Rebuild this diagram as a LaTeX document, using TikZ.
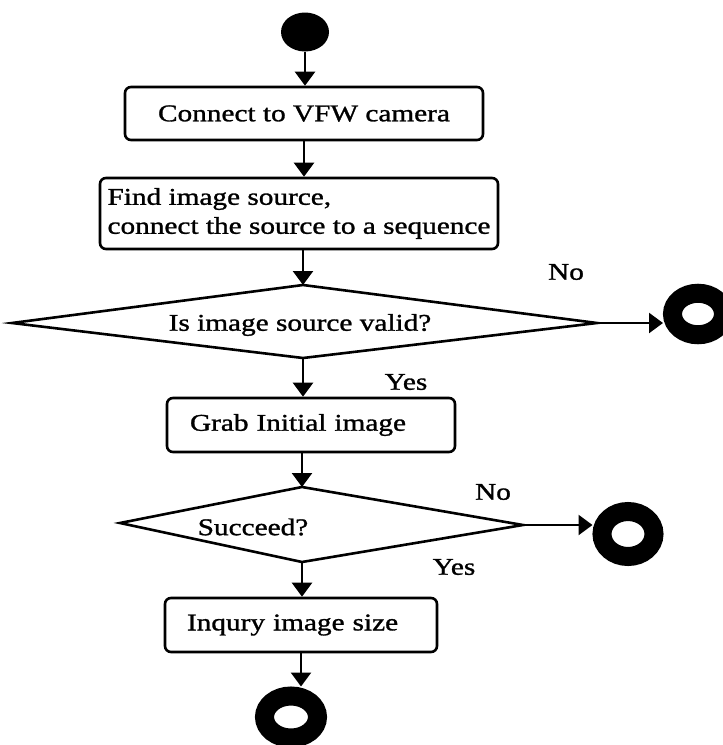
\documentclass[tikz,border=0pt]{standalone}
\usepackage{fontspec}
\setmainfont{Liberation Serif}[FakeStretch=1.22,FakeBold=1.2]
\usetikzlibrary{shapes.geometric,arrows.meta}
\begin{document}
\begin{tikzpicture}[x=1pt,y=-1pt,
  font=\fontsize{24}{29}\selectfont,
  arr/.style={line width=2.4pt,-{Triangle[width=20pt,length=14pt]}},
  stepbox/.style={draw,line width=2.6pt,rounded corners=6pt,inner sep=0pt},
  decision/.style={draw,line width=2.6pt,line join=miter},
  lbl/.style={inner sep=0pt},
  initial/.style={ellipse,fill=black,inner sep=0pt,outer sep=0pt,
    minimum width=48pt,minimum height=39pt},
  final/.style={ellipse,draw=black,fill=white,inner sep=0pt,line width=19pt},
]
% page
\fill[white] (0,0) rectangle (723,745);
\useasboundingbox (0,0) rectangle (723,745);

% start
\node[initial] (start) at (305,32) {};

% actions
\node[stepbox,minimum width=358pt,minimum height=53pt] (b1) at (304,113.5)
  {Connect to VFW camera};
\node[stepbox,minimum width=398pt,minimum height=71pt,align=left]
  (b2) at (299,213.5)
  {Find image source,\\connect the source to a sequence};
\node[stepbox,minimum height=54pt,text width=242pt,inner xsep=23pt,align=left]
  (b3) at (311,425) {Grab Initial image};
\node[stepbox,minimum height=54pt,text width=228pt,inner xsep=22pt,align=left]
  (b4) at (301,625) {Inqury image size};

% decision 1
\coordinate (d1l) at (12,323);
\coordinate (d1t) at (303,285);
\coordinate (d1r) at (597,323);
\coordinate (d1b) at (303,358);
\draw[decision] (d1l) -- (d1t) -- (d1r) -- (d1b) -- cycle;
\node[lbl] (q1) at (300,325) {Is image source valid?};

% decision 2
\coordinate (d2l) at (120,523);
\coordinate (d2t) at (302,487);
\coordinate (d2r) at (523,525);
\coordinate (d2b) at (302,562);
\draw[decision] (d2l) -- (d2t) -- (d2r) -- (d2b) -- cycle;
\node[lbl] (q2) at (253,527) {Succeed?};

% final states
\node[final,minimum width=51pt,minimum height=41.5pt] (e1) at (698,314) {};
\node[final,minimum width=52pt,minimum height=45pt] (e2) at (628,534) {};
\node[final,minimum width=53pt,minimum height=42pt] (e3) at (291,717) {};

% flow
\draw[arr] (start.south) -- (start.south |- b1.north);
\draw[arr] (b1.south) -- (b1.south |- b2.north);
\draw[arr] (d1t |- b2.south) -- (d1t);
\draw[arr] (d1b) -- (d1b |- b3.north);
\draw[arr] (d1r) -- (d1r -| e1.west);
\draw[arr] (d2t |- b3.south) -- (d2t);
\draw[arr] (d2r) -- (d2r -| e2.west);
\draw[arr] (d2b) -- (d2b |- b4.north);
\draw[arr] (b4.south) -- (b4.south |- e3.north);

% branch labels
\node[lbl] (no1) at (566,272) {No};
\node[lbl] (yes1) at (406,382) {Yes};
\node[lbl] (no2) at (493,492) {No};
\node[lbl] (yes2) at (454,567) {Yes};
\end{tikzpicture}
\end{document}
